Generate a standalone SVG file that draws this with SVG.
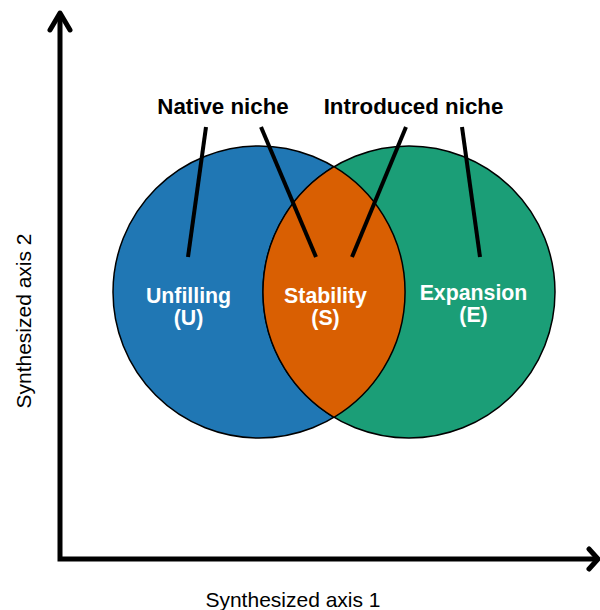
<svg xmlns="http://www.w3.org/2000/svg" width="600" height="610" viewBox="0 0 600 610">
<style>
.axis{fill:none;stroke:#000;stroke-width:5}
.head{fill:none;stroke:#000;stroke-width:5;stroke-linecap:round;stroke-linejoin:round}
.lead{stroke:#000;stroke-width:4}
.circ{stroke:#000;stroke-width:1.5}
.title{font-family:"Liberation Sans",Arial,sans-serif;font-weight:bold;font-size:22.3px;fill:#000;text-anchor:middle}
.lab{font-family:"Liberation Sans",Arial,sans-serif;font-weight:bold;font-size:21.3px;fill:#fff;text-anchor:middle}
.ax{font-family:"Liberation Sans",Arial,sans-serif;font-size:21px;fill:#000;text-anchor:middle}
</style>
<rect width="600" height="610" fill="#fff"/>
<g id="axes">
<path class="axis" d="M60,14 L60,559 L597,559"/>
<polyline class="head" points="50,30 60,13 70,30"/>
<polyline class="head" points="589,549 598,559 589,569"/>
<text class="ax" x="293" y="607">Synthesized axis 1</text>
<text class="ax" transform="translate(31,321) rotate(-90)">Synthesized axis 2</text>
</g>
<g id="native">
<circle class="circ" cx="259" cy="292" r="146" fill="#2077b4"/>
</g>
<g id="introduced">
<circle class="circ" cx="409" cy="292" r="146" fill="#1b9e77"/>
</g>
<g id="stability">
<path class="circ" fill="#d95f02" d="M334,166.7 A146,146 0 0,0 334,417.3 A146,146 0 0,0 334,166.7 Z"/>
</g>
<g id="connectors">
<line class="lead" x1="206" y1="127" x2="188" y2="257"/>
<line class="lead" x1="261" y1="127" x2="316" y2="257"/>
<line class="lead" x1="406" y1="127" x2="352" y2="257"/>
<line class="lead" x1="462" y1="127" x2="480" y2="257"/>
</g>
<g id="labels">
<text class="title" x="223" y="114">Native niche</text>
<text class="title" x="413.5" y="114">Introduced niche</text>
<text class="lab" x="188.5" y="303">Unfilling</text>
<text class="lab" x="188.5" y="325">(U)</text>
<text class="lab" x="325.5" y="303">Stability</text>
<text class="lab" x="325.5" y="325">(S)</text>
<text class="lab" x="473.5" y="300">Expansion</text>
<text class="lab" x="473.5" y="322">(E)</text>
</g>
</svg>
